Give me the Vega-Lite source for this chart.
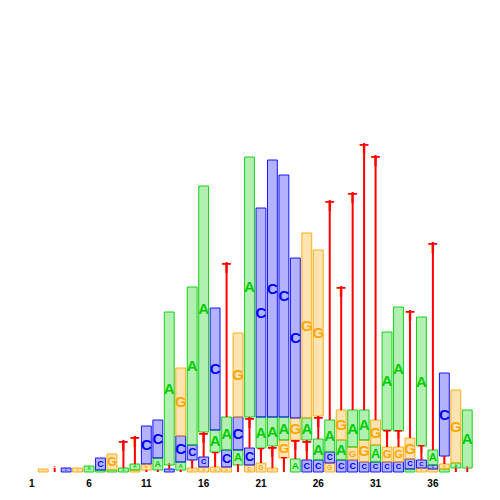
{
  "$schema": "https://vega.github.io/schema/vega-lite/v6.json",
  "width": 447,
  "height": 400,
  "autosize": "none",
  "padding": {"left": 26, "top": 72, "right": 27, "bottom": 28},
  "background": "white",
  "config": {"view": {"stroke": null}},
  "data": {"values": [
    {"pos": 2, "base": "G", "bits": 0.015},
    {"pos": 3, "base": "T", "bits": 0.02},
    {"pos": 4, "base": "C", "bits": 0.02},
    {"pos": 5, "base": "G", "bits": 0.02},
    {"pos": 6, "base": "A", "bits": 0.03},
    {"pos": 7, "base": "A", "bits": 0.01}, {"pos": 7, "base": "C", "bits": 0.06},
    {"pos": 8, "base": "A", "bits": 0.01}, {"pos": 8, "base": "G", "bits": 0.08},
    {"pos": 9, "base": "A", "bits": 0.02}, {"pos": 9, "base": "T", "bits": 0.14},
    {"pos": 10, "base": "G", "bits": 0.01}, {"pos": 10, "base": "A", "bits": 0.03}, {"pos": 10, "base": "T", "bits": 0.14},
    {"pos": 11, "base": "T", "bits": 0.01}, {"pos": 11, "base": "G", "bits": 0.03}, {"pos": 11, "base": "C", "bits": 0.19},
    {"pos": 12, "base": "T", "bits": 0.01}, {"pos": 12, "base": "A", "bits": 0.06}, {"pos": 12, "base": "C", "bits": 0.19},
    {"pos": 13, "base": "C", "bits": 0.015}, {"pos": 13, "base": "T", "bits": 0.02}, {"pos": 13, "base": "A", "bits": 0.765},
    {"pos": 14, "base": "T", "bits": 0.01}, {"pos": 14, "base": "A", "bits": 0.04}, {"pos": 14, "base": "C", "bits": 0.13}, {"pos": 14, "base": "G", "bits": 0.34},
    {"pos": 15, "base": "G", "bits": 0.02}, {"pos": 15, "base": "T", "bits": 0.04}, {"pos": 15, "base": "C", "bits": 0.075}, {"pos": 15, "base": "A", "bits": 0.79},
    {"pos": 16, "base": "G", "bits": 0.025}, {"pos": 16, "base": "C", "bits": 0.05}, {"pos": 16, "base": "T", "bits": 0.125}, {"pos": 16, "base": "A", "bits": 1.23},
    {"pos": 17, "base": "G", "bits": 0.025}, {"pos": 17, "base": "T", "bits": 0.075}, {"pos": 17, "base": "A", "bits": 0.11}, {"pos": 17, "base": "C", "bits": 0.61},
    {"pos": 18, "base": "G", "bits": 0.025}, {"pos": 18, "base": "C", "bits": 0.085}, {"pos": 18, "base": "A", "bits": 0.165}, {"pos": 18, "base": "T", "bits": 0.775},
    {"pos": 19, "base": "T", "bits": 0.035}, {"pos": 19, "base": "A", "bits": 0.075}, {"pos": 19, "base": "C", "bits": 0.165}, {"pos": 19, "base": "G", "bits": 0.42},
    {"pos": 20, "base": "G", "bits": 0.035}, {"pos": 20, "base": "C", "bits": 0.085}, {"pos": 20, "base": "T", "bits": 0.155}, {"pos": 20, "base": "A", "bits": 1.30},
    {"pos": 21, "base": "G", "bits": 0.045}, {"pos": 21, "base": "T", "bits": 0.075}, {"pos": 21, "base": "A", "bits": 0.155}, {"pos": 21, "base": "C", "bits": 1.045},
    {"pos": 22, "base": "G", "bits": 0.02}, {"pos": 22, "base": "T", "bits": 0.11}, {"pos": 22, "base": "A", "bits": 0.145}, {"pos": 22, "base": "C", "bits": 1.285},
    {"pos": 23, "base": "T", "bits": 0.07}, {"pos": 23, "base": "G", "bits": 0.09}, {"pos": 23, "base": "A", "bits": 0.115}, {"pos": 23, "base": "C", "bits": 1.21},
    {"pos": 24, "base": "A", "bits": 0.065}, {"pos": 24, "base": "T", "bits": 0.095}, {"pos": 24, "base": "G", "bits": 0.11}, {"pos": 24, "base": "C", "bits": 0.80},
    {"pos": 25, "base": "C", "bits": 0.06}, {"pos": 25, "base": "T", "bits": 0.10}, {"pos": 25, "base": "A", "bits": 0.11}, {"pos": 25, "base": "G", "bits": 0.925},
    {"pos": 26, "base": "C", "bits": 0.06}, {"pos": 26, "base": "A", "bits": 0.105}, {"pos": 26, "base": "T", "bits": 0.115}, {"pos": 26, "base": "G", "bits": 0.83},
    {"pos": 27, "base": "G", "bits": 0.045}, {"pos": 27, "base": "C", "bits": 0.055}, {"pos": 27, "base": "A", "bits": 0.16}, {"pos": 27, "base": "T", "bits": 1.10},
    {"pos": 28, "base": "C", "bits": 0.06}, {"pos": 28, "base": "A", "bits": 0.10}, {"pos": 28, "base": "G", "bits": 0.15}, {"pos": 28, "base": "T", "bits": 0.62},
    {"pos": 29, "base": "C", "bits": 0.06}, {"pos": 29, "base": "G", "bits": 0.065}, {"pos": 29, "base": "A", "bits": 0.185}, {"pos": 29, "base": "T", "bits": 1.09},
    {"pos": 30, "base": "C", "bits": 0.05}, {"pos": 30, "base": "G", "bits": 0.11}, {"pos": 30, "base": "A", "bits": 0.15}, {"pos": 30, "base": "T", "bits": 1.335},
    {"pos": 31, "base": "C", "bits": 0.05}, {"pos": 31, "base": "A", "bits": 0.085}, {"pos": 31, "base": "G", "bits": 0.125}, {"pos": 31, "base": "T", "bits": 1.325},
    {"pos": 32, "base": "C", "bits": 0.05}, {"pos": 32, "base": "G", "bits": 0.075}, {"pos": 32, "base": "T", "bits": 0.085}, {"pos": 32, "base": "A", "bits": 0.49},
    {"pos": 33, "base": "C", "bits": 0.05}, {"pos": 33, "base": "G", "bits": 0.075}, {"pos": 33, "base": "T", "bits": 0.08}, {"pos": 33, "base": "A", "bits": 0.62},
    {"pos": 34, "base": "A", "bits": 0.015}, {"pos": 34, "base": "C", "bits": 0.05}, {"pos": 34, "base": "G", "bits": 0.105}, {"pos": 34, "base": "T", "bits": 0.64},
    {"pos": 35, "base": "G", "bits": 0.02}, {"pos": 35, "base": "C", "bits": 0.04}, {"pos": 35, "base": "T", "bits": 0.07}, {"pos": 35, "base": "A", "bits": 0.645},
    {"pos": 36, "base": "G", "bits": 0.015}, {"pos": 36, "base": "C", "bits": 0.02}, {"pos": 36, "base": "A", "bits": 0.075}, {"pos": 36, "base": "T", "bits": 1.04},
    {"pos": 37, "base": "A", "bits": 0.015}, {"pos": 37, "base": "G", "bits": 0.025}, {"pos": 37, "base": "T", "bits": 0.04}, {"pos": 37, "base": "C", "bits": 0.415},
    {"pos": 38, "base": "T", "bits": 0.02}, {"pos": 38, "base": "A", "bits": 0.025}, {"pos": 38, "base": "G", "bits": 0.365},
    {"pos": 39, "base": "T", "bits": 0.02}, {"pos": 39, "base": "A", "bits": 0.29}
  ]},
  "transform": [
    {"stack": "bits", "groupby": ["pos"], "sort": [{"field": "bits", "order": "ascending"}], "as": ["y0", "y1"]}
  ],
  "encoding": {
    "x": {
      "field": "pos", "type": "ordinal",
      "scale": {"domain": [1,2,3,4,5,6,7,8,9,10,11,12,13,14,15,16,17,18,19,20,21,22,23,24,25,26,27,28,29,30,31,32,33,34,35,36,37,38,39], "paddingInner": 0, "paddingOuter": 0},
      "axis": {"values": [1,6,11,16,21,26,31,36], "labelAngle": 0, "title": null, "domain": false, "ticks": false, "grid": false, "labelFont": "Liberation Sans", "labelFontWeight": "bold", "labelFontSize": 10, "labelColor": "black", "labelPadding": 6}
    },
    "color": {"field": "base", "type": "nominal", "scale": {"domain": ["A", "C", "G", "T"], "range": ["#00CC00", "#0000FF", "#FFA500", "#FF0000"]}, "legend": null}
  },
  "layer": [
    {
      "mark": {"type": "bar", "width": {"band": 0.86}, "strokeWidth": 1},
      "encoding": {
        "y": {"field": "y0", "type": "quantitative", "scale": {"domain": [0, 2]}, "axis": null},
        "y2": {"field": "y1"},
        "stroke": {"field": "base", "type": "nominal", "scale": {"domain": ["A", "C", "G", "T"], "range": ["#00CC00", "#0000FF", "#FFA500", "#FF0000"]}, "legend": null},
        "fillOpacity": {"condition": {"test": "datum.base === 'T'", "value": 0}, "value": 0.3},
        "strokeOpacity": {"condition": {"test": "datum.base === 'T'", "value": 0}, "value": 0.9}
      }
    },
    {
      "transform": [{"filter": "datum.base === 'T'"}],
      "mark": {"type": "rule", "strokeWidth": 2},
      "encoding": {
        "y": {"field": "y0", "type": "quantitative"},
        "y2": {"field": "y1"}
      }
    },
    {
      "transform": [{"filter": "datum.base === 'T'"}],
      "mark": {"type": "text", "font": "Liberation Sans", "fontWeight": "bold", "baseline": "top", "align": "center", "dy": -1},
      "encoding": {
        "y": {"field": "y1", "type": "quantitative"},
        "text": {"field": "base"},
        "size": {"field": "bits", "type": "quantitative", "scale": {"domain": [0, 0.1], "range": [0, 15], "clamp": true}, "legend": null}
      }
    },
    {
      "mark": {"type": "text", "font": "Liberation Sans", "fontWeight": "bold", "baseline": "middle", "align": "center"},
      "encoding": {
        "y": {"field": "bits", "type": "quantitative", "stack": "zero", "bandPosition": 0.5},
        "order": {"field": "bits", "sort": "ascending"},
        "text": {"condition": {"test": "datum.base === 'T'", "value": ""}, "field": "base"},
        "size": {"field": "bits", "type": "quantitative", "scale": {"domain": [0, 0.1], "range": [0, 14], "clamp": true}, "legend": null}
      }
    }
  ]
}
